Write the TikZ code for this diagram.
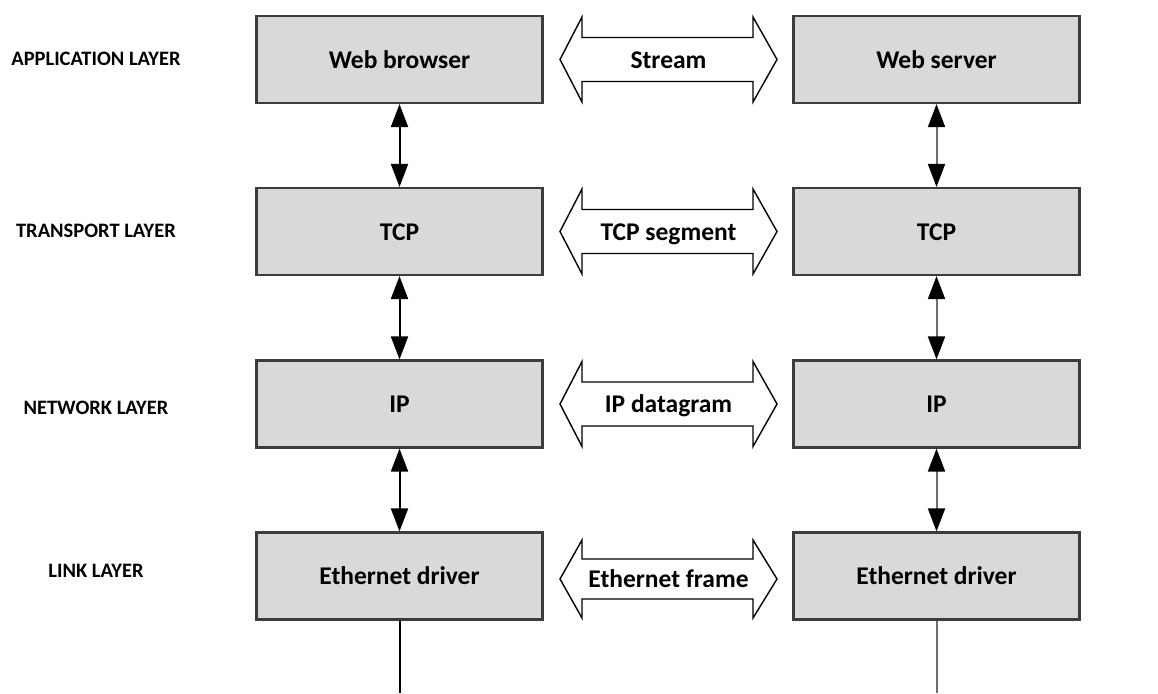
\documentclass[tikz,border=0pt]{standalone}
\usepackage{fontspec}
\setmainfont{Carlito}
\usetikzlibrary{arrows.meta}
\definecolor{boxfill}{RGB}{217,217,217}
\definecolor{boxline}{RGB}{60,60,60}
\definecolor{rightline}{RGB}{110,110,110}
\tikzset{
  layerbox/.style={draw=boxline, line width=2.2pt, fill=boxfill, minimum width=286pt, minimum height=87pt, inner sep=0pt},
  boxtext/.style={font=\fontsize{25.5}{30}\selectfont\bfseries, inner sep=0pt, anchor=base},
  layerlabel/.style={font=\fontsize{20.5}{24}\selectfont\bfseries, inner sep=0pt, anchor=base},
  fatarrow/.style={draw=black, line width=1.4pt, fill=white, line join=miter},
  vtip/.style={Triangle[width=17pt,length=23pt,color=black]},
  vlink/.style={line width=2pt, {Triangle[width=17pt,length=23pt,color=black]}-{Triangle[width=17pt,length=23pt,color=black]}},
  tail/.style={line width=2pt},
}
\newcommand{\fatshape}[3]{% #1 center y, #2 head half-height, #3 shaft half-height
  \draw[fatarrow] (560,#1) -- (582,#1-#2) -- (582,#1-#3) -- (753,#1-#3) -- (753,#1-#2)
    -- (777,#1) -- (753,#1+#2) -- (753,#1+#3) -- (582,#1+#3) -- (582,#1+#2) -- cycle;}
\begin{document}
\begin{tikzpicture}[x=1pt,y=-1pt]
\useasboundingbox (0,0) rectangle (1158,693);
% layer labels
\node[layerlabel] (lapp) at (96,65.5) {APPLICATION LAYER};
\node[layerlabel] (ltra) at (96,237.5) {TRANSPORT LAYER};
\node[layerlabel] (lnet) at (96,414.5) {NETWORK LAYER};
\node[layerlabel] (llnk) at (96,577.5) {LINK LAYER};
% left stack
\node[layerbox] (lb1) at (399.5,59.5) {};
\node[layerbox] (lb2) at (399.5,231.5) {};
\node[layerbox] (lb3) at (399.5,404) {};
\node[layerbox] (lb4) at (399.5,576) {};
\node[boxtext] (tl1) at (399.5,68) {Web browser};
\node[boxtext] (tl2) at (399.5,240) {TCP};
\node[boxtext] (tl3) at (399.5,412.5) {IP};
\node[boxtext] (tl4) at (399.5,584.5) {Ethernet driver};
% right stack
\node[layerbox] (rb1) at (936.5,59.5) {};
\node[layerbox] (rb2) at (936.5,231.5) {};
\node[layerbox] (rb3) at (936.5,404) {};
\node[layerbox] (rb4) at (936.5,576) {};
\node[boxtext] (tr1) at (936.5,68) {Web server};
\node[boxtext] (tr2) at (936.5,240) {TCP};
\node[boxtext] (tr3) at (936.5,412.5) {IP};
\node[boxtext] (tr4) at (936.5,584.5) {Ethernet driver};
% fat double arrows
\fatshape{59.5}{42.5}{22}
\node[boxtext] (a1) at (668.5,68) {Stream};
\fatshape{231.5}{42.5}{22}
\node[boxtext] (a2) at (668.5,240) {TCP segment};
\fatshape{404}{42.5}{22}
\node[boxtext] (a3) at (668.5,412.5) {IP datagram};
\fatshape{579}{39}{20}
\node[boxtext] (a4) at (668.5,587.5) {Ethernet frame};
% vertical links
\draw[vlink] (lb1.south) -- (lb2.north);
\draw[vlink] (lb2.south) -- (lb3.north);
\draw[vlink] (lb3.south) -- (lb4.north);
\draw[vlink, draw=rightline] (rb1.south) -- (rb2.north);
\draw[vlink, draw=rightline] (rb2.south) -- (rb3.north);
\draw[vlink, draw=rightline] (rb3.south) -- (rb4.north);
\coordinate (lend) at (399.5,693);
\coordinate (rend) at (936.5,693);
\draw[tail] (lb4.south) -- (lend);
\draw[tail, draw=rightline] (rb4.south) -- (rend);
\end{tikzpicture}
\end{document}
